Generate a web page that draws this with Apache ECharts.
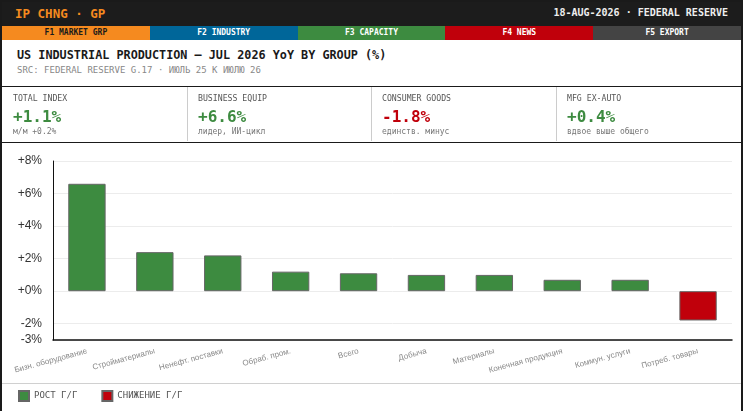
<!DOCTYPE html>
<html><head><meta charset="utf-8">
<script src="https://cdn.jsdelivr.net/npm/echarts@6/dist/echarts.min.js"></script>
<style>
html,body{margin:0;padding:0;width:743px;height:411px;overflow:hidden;background:#fff;font-family:"DejaVu Sans Mono",monospace;}
.abs{position:absolute;white-space:nowrap;}
#frame{position:absolute;left:0;top:0;width:743px;height:411px;box-sizing:border-box;border:2px solid #1a1a1a;border-bottom:none;z-index:3;pointer-events:none;}
#hdr{position:absolute;left:0;top:0;width:743px;height:26px;background:#1c1c1c;z-index:2;}
#tabs{position:absolute;left:2px;top:26px;width:739px;height:14px;display:flex;z-index:2;}
#tabs div{flex:1;text-align:center;font-size:8px;line-height:14px;font-weight:bold;color:#fff;}
#kpi{position:absolute;left:0;top:86px;width:743px;height:57px;box-sizing:border-box;border-top:1.5px solid #1a1a1a;border-bottom:1.5px solid #1a1a1a;z-index:2;}
.cell{position:absolute;top:0;height:54px;}
.sep{position:absolute;top:0;width:1px;height:54px;background:#ccc;}
.kl{position:absolute;left:11px;top:6px;font-size:8.2px;color:#555;white-space:nowrap;}
.kv{position:absolute;left:11px;top:20px;font-size:16px;font-weight:bold;white-space:nowrap;}
.ks{position:absolute;left:11px;top:40px;font-size:8px;color:#777;white-space:nowrap;}
#chart{position:absolute;left:0;top:0;width:743px;height:411px;z-index:1;}
#legsep{position:absolute;left:2px;top:383px;width:739px;height:1px;background:#d0d0d0;z-index:2;}
</style>
</head><body>
<div id="chart"></div>
<div id="hdr">
  <div class="abs" style="left:15px;top:6px;font-size:12.5px;font-weight:bold;color:#f58a1f;">IP CHNG · GP</div>
  <div class="abs" style="right:15px;top:7px;font-size:10px;font-weight:bold;color:#eeeeee;">18-AUG-2026 · FEDERAL RESERVE</div>
</div>
<div id="tabs">
  <div style="background:#f58a1f;color:#1a1a1a;">F1 MARKET GRP</div>
  <div style="background:#006699;">F2 INDUSTRY</div>
  <div style="background:#3d8b40;">F3 CAPACITY</div>
  <div style="background:#c0000b;">F4 NEWS</div>
  <div style="background:#444444;">F5 EXPORT</div>
</div>
<div class="abs" style="left:17px;top:48px;font-size:11.8px;font-weight:bold;color:#1a1a1a;">US INDUSTRIAL PRODUCTION — JUL 2026 YoY BY GROUP (%)</div>
<div class="abs" style="left:17px;top:65px;font-size:9px;color:#888;">SRC: FEDERAL RESERVE G.17 · ИЮЛЬ 25 К ИЮЛЮ 26</div>
<div id="kpi"></div>
<div id="legsep"></div>
<div id="frame"></div>
<script>
// ---- data ----
const categories = ['Бизн. оборудование','Стройматериалы','Ненефт. поставки','Обраб. пром.','Всего','Добыча','Материалы','Конечная продукция','Коммун. услуги','Потреб. товары'];
const values = [6.6, 2.4, 2.2, 1.2, 1.1, 1.0, 1.0, 0.7, 0.7, -1.8];
const seriesNames = ['РОСТ Г/Г', 'СНИЖЕНИЕ Г/Г'];
const kpiLabels = ['TOTAL INDEX', 'BUSINESS EQUIP', 'CONSUMER GOODS', 'MFG EX-AUTO'];
const kpiValues = ['+1.1%', '+6.6%', '-1.8%', '+0.4%'];
const kpiNotes = ['м/м +0.2%', 'лидер, ИИ-цикл', 'единств. минус', 'вдвое выше общего'];
const yMin = -3, yMax = 8;

const GREEN = '#3d8b40', RED = '#c0000b';

// KPI row
const kpi = document.getElementById('kpi');
const cellX = [2, 187, 371, 556, 741];
kpiLabels.forEach((lab, i) => {
  const c = document.createElement('div');
  c.className = 'cell';
  c.style.left = cellX[i] + 'px';
  c.style.width = (cellX[i+1] - cellX[i]) + 'px';
  const neg = kpiValues[i].startsWith('-');
  c.innerHTML = '<div class="kl">' + lab + '</div><div class="kv" style="color:' + (neg ? RED : GREEN) + '">' + kpiValues[i] + '</div><div class="ks">' + kpiNotes[i] + '</div>';
  kpi.appendChild(c);
  if (i > 0) {
    const s = document.createElement('div');
    s.className = 'sep';
    s.style.left = cellX[i] + 'px';
    kpi.appendChild(s);
  }
});

const pos = values.map(v => v >= 0 ? v : '-');
const neg = values.map(v => v < 0 ? v : '-');

const chart = echarts.init(document.getElementById('chart'), null, {renderer: 'canvas'});
chart.setOption({
  animation: false,
  grid: {left: 53, right: 11, top: 161, bottom: 71, containLabel: false},
  legend: {
    data: seriesNames, left: 13, top: 390, padding: [0, 5, 0, 5], icon: 'rect', itemWidth: 10, itemHeight: 10, itemGap: 24,
    textStyle: {fontFamily: 'DejaVu Sans Mono', fontSize: 9, color: '#555'}
  },
  xAxis: {
    type: 'category', data: categories,
    axisLine: {onZero: false, lineStyle: {color: '#111', width: 1.5}},
    axisTick: {show: false},
    axisLabel: {interval: 0, rotate: 15, fontSize: 8, color: '#888', fontFamily: 'Liberation Sans', margin: 11}
  },
  yAxis: {
    type: 'value', min: yMin, max: yMax,
    axisLine: {show: true, lineStyle: {color: '#111', width: 1}},
    axisTick: {show: false},
    splitLine: {lineStyle: {color: '#ececec', width: 1}},
    axisLabel: {fontSize: 12, color: '#333', fontFamily: 'Liberation Sans', margin: 11,
      formatter: v => (v >= 0 ? '+' + v : '' + v) + '%'}
  },
  series: [
    {name: seriesNames[0], type: 'bar', stack: 'g', data: pos, barWidth: '55%',
     itemStyle: {color: GREEN, borderColor: '#666', borderWidth: 1}},
    {name: seriesNames[1], type: 'bar', stack: 'g', data: neg, barWidth: '55%',
     itemStyle: {color: RED, borderColor: '#666', borderWidth: 1}}
  ]
});
</script>
</body></html>
